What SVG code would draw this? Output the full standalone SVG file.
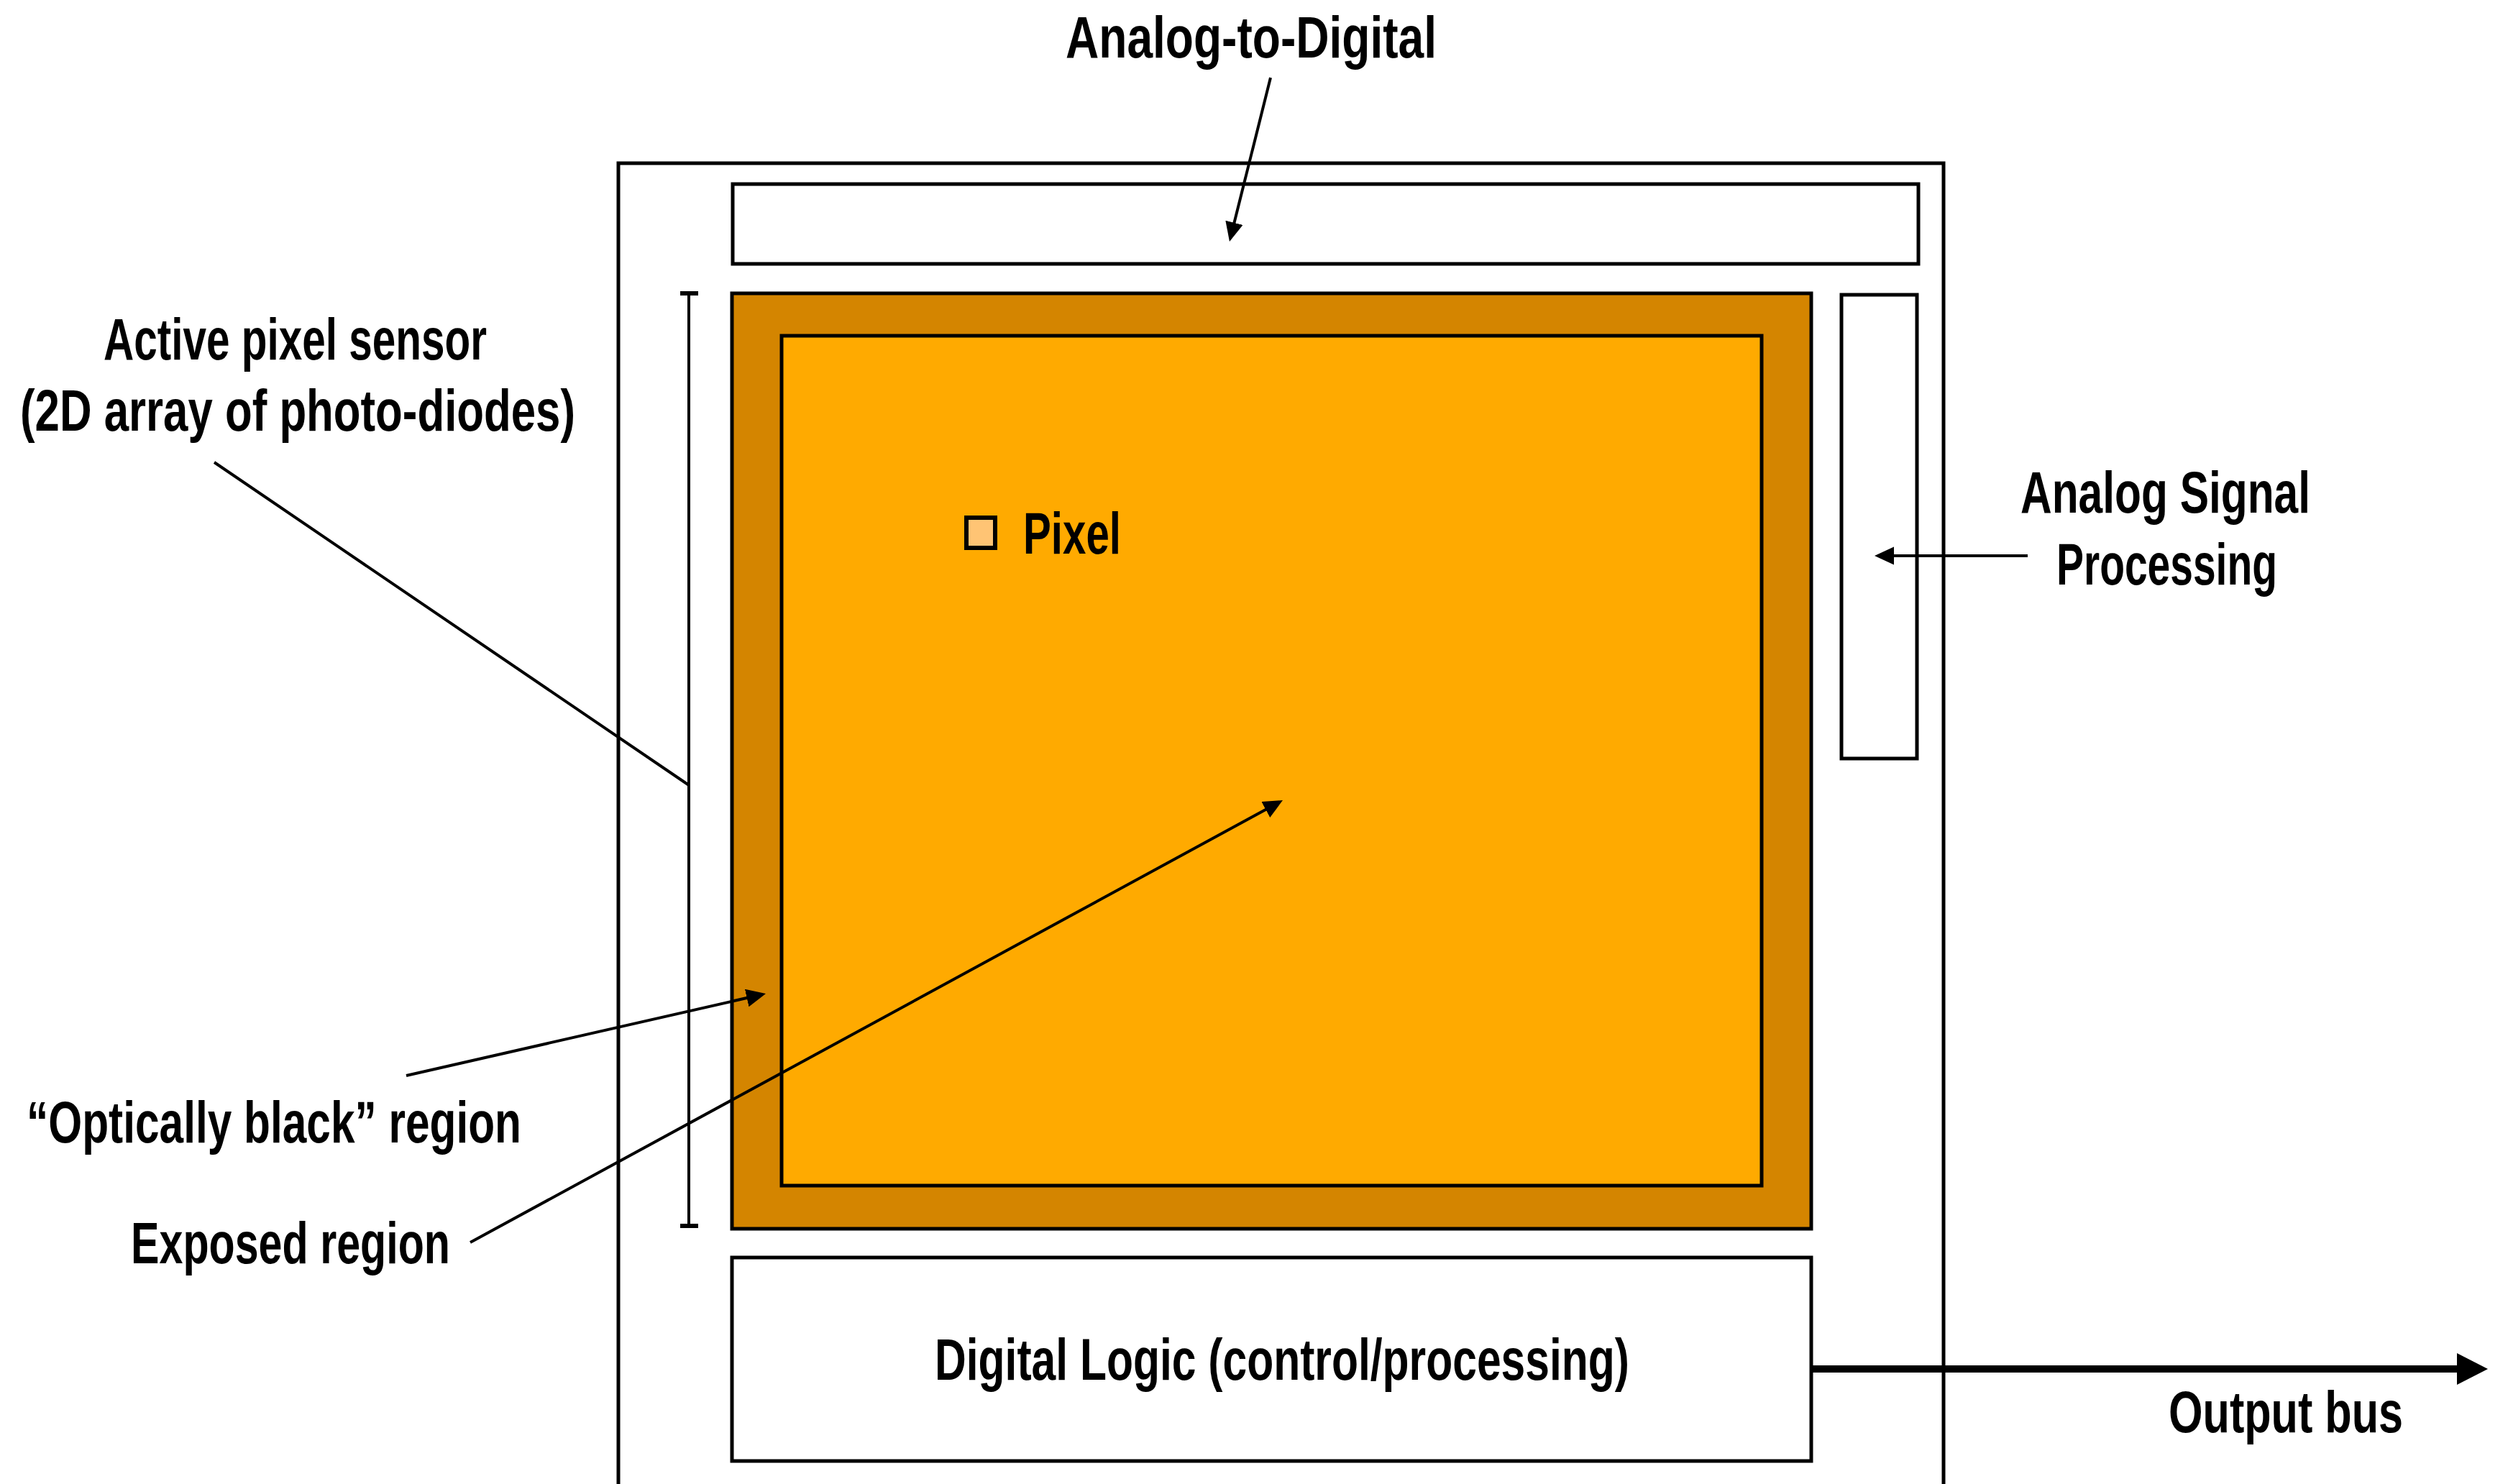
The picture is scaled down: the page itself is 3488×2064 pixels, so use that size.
<svg xmlns="http://www.w3.org/2000/svg" width="3488" height="2064" viewBox="0 0 3488 2064">
  <style>
    .box { fill: #ffffff; stroke: #000000; stroke-width: 5; }
    .lbl { font-family: "Liberation Sans Narrow", "Liberation Sans", Arial, sans-serif; font-weight: bold; font-size: 81px; fill: #000000; }
    .wire { fill: none; stroke: #000000; stroke-width: 4; }
  </style>
  <defs>
    <marker id="head" markerUnits="userSpaceOnUse" markerWidth="28" markerHeight="26" refX="12" refY="12.5" orient="auto">
      <path d="M0,0 L27,12.5 L0,25 z" fill="#000000"/>
    </marker>
    <marker id="bighead" markerUnits="userSpaceOnUse" markerWidth="44" markerHeight="45" refX="20" refY="22" orient="auto">
      <path d="M0,0 L43,22 L0,44 z" fill="#000000"/>
    </marker>
  </defs>

  <rect width="3488" height="2064" fill="#ffffff"/>

  <!-- chip outline, open at the bottom edge -->
  <g id="chip">
    <path d="M860,2070 V227 H2703 V2070" fill="none" stroke="#000000" stroke-width="5"/>
  </g>

  <g id="adc">
    <rect class="box" x="1019" y="256" width="1649" height="111"/>
  </g>

  <g id="asp">
    <rect class="box" x="2561" y="410" width="105" height="645"/>
  </g>

  <g id="sensor">
    <rect x="1018" y="408" width="1501" height="1301" fill="#D48500" stroke="#000000" stroke-width="5"/>
    <rect id="exposed" x="1087" y="467" width="1363" height="1182" fill="#FFAA00" stroke="#000000" stroke-width="5"/>
  </g>

  <g id="pixel">
    <rect x="1344" y="720" width="40" height="42" fill="#FFC474" stroke="#000000" stroke-width="6"/>
    <text class="lbl" x="1423" y="770" textLength="136" lengthAdjust="spacingAndGlyphs">Pixel</text>
  </g>

  <g id="digital">
    <rect class="box" x="1018" y="1749" width="1501" height="283"/>
    <text class="lbl" x="1300" y="1919" textLength="966" lengthAdjust="spacingAndGlyphs">Digital Logic (control/processing)</text>
  </g>

  <!-- height bracket beside the sensor -->
  <g id="bracket">
    <line x1="958" y1="408" x2="958" y2="1705" stroke="#000000" stroke-width="4"/>
    <line x1="946" y1="408" x2="971" y2="408" stroke="#000000" stroke-width="6"/>
    <line x1="946" y1="1705" x2="971" y2="1705" stroke="#000000" stroke-width="6"/>
  </g>

  <g id="labels">
    <text class="lbl" x="1482" y="80" textLength="516" lengthAdjust="spacingAndGlyphs">Analog-to-Digital</text>
    <text class="lbl" x="144" y="500" textLength="533" lengthAdjust="spacingAndGlyphs">Active pixel sensor</text>
    <text class="lbl" x="28" y="599" textLength="772" lengthAdjust="spacingAndGlyphs">(2D array of photo-diodes)</text>
    <text class="lbl" x="2810" y="713" textLength="403" lengthAdjust="spacingAndGlyphs">Analog Signal</text>
    <text class="lbl" x="2860" y="813" textLength="307" lengthAdjust="spacingAndGlyphs">Processing</text>
    <text class="lbl" x="37" y="1589" textLength="688" lengthAdjust="spacingAndGlyphs">“Optically black” region</text>
    <text class="lbl" x="182" y="1757" textLength="444" lengthAdjust="spacingAndGlyphs">Exposed region</text>
    <text class="lbl" x="3016" y="1992" textLength="326" lengthAdjust="spacingAndGlyphs">Output bus</text>
  </g>

  <g id="connectors">
    <line class="wire" x1="1767" y1="108" x2="1713.6" y2="321.4" marker-end="url(#head)"/>
    <line class="wire" x1="2820" y1="773" x2="2622" y2="773" marker-end="url(#head)"/>
    <line class="wire" x1="298" y1="643" x2="958" y2="1092"/>
    <line class="wire" x1="565" y1="1496" x2="1050.4" y2="1385.3" marker-end="url(#head)"/>
    <line class="wire" x1="654" y1="1728" x2="1770.8" y2="1120.2" marker-end="url(#head)"/>
    <line x1="2519" y1="1904" x2="3437" y2="1904" stroke="#000000" stroke-width="10" marker-end="url(#bighead)"/>
  </g>
</svg>
